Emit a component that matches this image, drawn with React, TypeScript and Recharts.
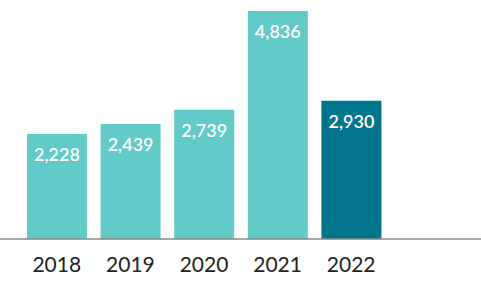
import React from 'react';
import { BarChart, Bar, XAxis, YAxis, Cell, LabelList } from 'recharts';

const years = ['2018', '2019', '2020', '2021', '2022'];
const values = [2228, 2439, 2739, 4836, 2930];
const colors = ['#62CAC8', '#62CAC8', '#62CAC8', '#62CAC8', '#00758B'];

const data = years.map((y, i) => ({ year: y, value: values[i] }));

export default function App() {
  return (
    <div style={{ position: 'absolute', left: 0, top: 0 }}>
      <BarChart
        width={481}
        height={283}
        data={data}
        margin={{ top: 11, right: 0, bottom: 0, left: 0 }}
        barSize={60}
      >
        <YAxis hide domain={[0, 4836]} />
        <XAxis
          dataKey="year"
          height={44}
          padding={{ left: 20, right: 93 }}
          axisLine={{ stroke: '#888888', strokeWidth: 1.5 }}
          tickLine={false}
          tick={{ fill: '#222222', fontSize: 21, fontFamily: 'Lato', fontWeight: 400, dy: 10 }}
        />
        <Bar dataKey="value" isAnimationActive={false}>
          {data.map((d, i) => (
            <Cell key={d.year} fill={colors[i]} />
          ))}
          <LabelList
            dataKey="value"
            position="insideTop"
            offset={14}
            formatter={(v: number) => v.toLocaleString('en-US')}
            style={{ fill: '#ffffff', fontSize: 18, fontFamily: 'Lato', fontWeight: 600 }}
          />
        </Bar>
      </BarChart>
    </div>
  );
}
